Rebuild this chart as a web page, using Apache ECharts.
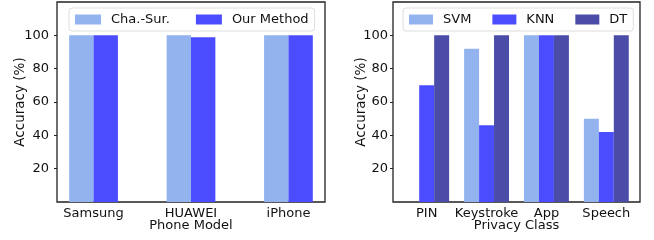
<!DOCTYPE html>
<html>
<head>
<meta charset="utf-8">
<script src="https://cdn.jsdelivr.net/npm/echarts@6/dist/echarts.min.js"></script>
<style>html,body{margin:0;padding:0;background:#fff}#c{width:654px;height:240px}</style>
</head>
<body>
<div id="c"></div>
<script>
// Left chart data
const phoneModels = ['Samsung', 'HUAWEI', 'iPhone'];
const chaSur = [100, 100, 100];
const ourMethod = [100, 98.8, 100];
// Right chart data
const privacyClasses = ['PIN', 'Keystroke', 'App', 'Speech'];
const svm = [0, 92, 100, 50];
const knn = [70, 46, 100, 42];
const dt = [100, 100, 100, 100];
// Tick labels
const yTicks = [20, 40, 60, 80, 100];

const C1 = '#92b3ee', C2 = '#4c4cff', C3 = '#4b4ba8';
const FONT = 'DejaVu Sans';
const chart = echarts.init(document.getElementById('c'), null, {renderer: 'canvas'});

function toPts(arr) { return arr.map((v, i) => [i, v]); }

function xAxis(idx, cats, min, max, name) {
  return {
    type: 'value', gridIndex: idx, min: min, max: max,
    name: name, nameLocation: 'middle', nameGap: 17, nameMoveOverlap: false,
    nameTextStyle: {fontFamily: FONT, fontSize: 13, color: '#111', lineHeight: 13},
    axisLine: {show: false, onZero: false}, axisTick: {show: false}, splitLine: {show: false},
    axisLabel: {customValues: cats.map((c, i) => i), formatter: v => cats[Math.round(v)],
      fontFamily: FONT, fontSize: 13, color: '#111', margin: 5, lineHeight: 13}
  };
}
function yAxis(idx, labelMargin, nameGap) {
  return {
    type: 'value', gridIndex: idx, min: 0, max: 120, interval: 20,
    name: 'Accuracy (%)', nameLocation: 'middle', nameGap: nameGap, nameRotate: 90, nameMoveOverlap: false,
    nameTextStyle: {fontFamily: FONT, fontSize: 13.5, color: '#111'},
    axisLine: {show: false, onZero: false}, splitLine: {show: false},
    axisTick: {show: true, length: 3, customValues: yTicks, lineStyle: {color: '#222'}},
    axisLabel: {customValues: yTicks, fontFamily: FONT, fontSize: 13, color: '#111', margin: labelMargin}
  };
}
function bar(name, data, color, xi, yi, w) {
  return {type: 'bar', name: name, data: toPts(data), xAxisIndex: xi, yAxisIndex: yi,
    barWidth: w, barGap: '0%', itemStyle: {color: color}, silent: true, animation: false};
}

const legendText = {fontFamily: FONT, fontSize: 13, color: '#111', padding: [0, 0, 0, 5]};
chart.setOption({
  animation: false,
  grid: [
    {left: 57, right: 329, top: 2, bottom: 38, show: true, borderColor: '#222', borderWidth: 1.3,
     backgroundColor: 'transparent', outerBoundsMode: 'none', containLabel: false},
    {left: 393, right: 14, top: 2, bottom: 38, show: true, borderColor: '#222', borderWidth: 1.3,
     backgroundColor: 'transparent', outerBoundsMode: 'none', containLabel: false}
  ],
  legend: [
    {data: ['Cha.-Sur.', 'Our Method'], left: 69, top: 8, itemWidth: 26, itemHeight: 10, itemGap: 26,
     padding: [5, 6, 5, 6], borderColor: '#ddd', borderWidth: 1, borderRadius: 3, backgroundColor: '#fff',
     textStyle: legendText, icon: 'rect', selectedMode: false},
    {data: ['SVM', 'KNN', 'DT'], left: 403, top: 8, itemWidth: 24, itemHeight: 10, itemGap: 21,
     padding: [5, 6, 5, 6], borderColor: '#ddd', borderWidth: 1, borderRadius: 3, backgroundColor: '#fff',
     textStyle: legendText, icon: 'rect', selectedMode: false}
  ],
  xAxis: [
    xAxis(0, phoneModels, -0.375, 2.375, 'Phone Model'),
    xAxis(1, privacyClasses, -0.5625, 3.5625, 'Privacy Class')
  ],
  yAxis: [yAxis(0, 8, 30), yAxis(1, 5, 25)],
  series: [
    bar('Cha.-Sur.', chaSur, C1, 0, 0, '25%'),
    bar('Our Method', ourMethod, C2, 0, 0, '25%'),
    bar('SVM', svm, C1, 1, 1, '25%'),
    bar('KNN', knn, C2, 1, 1, '25%'),
    bar('DT', dt, C3, 1, 1, '25%')
  ]
});
</script>
</body>
</html>
